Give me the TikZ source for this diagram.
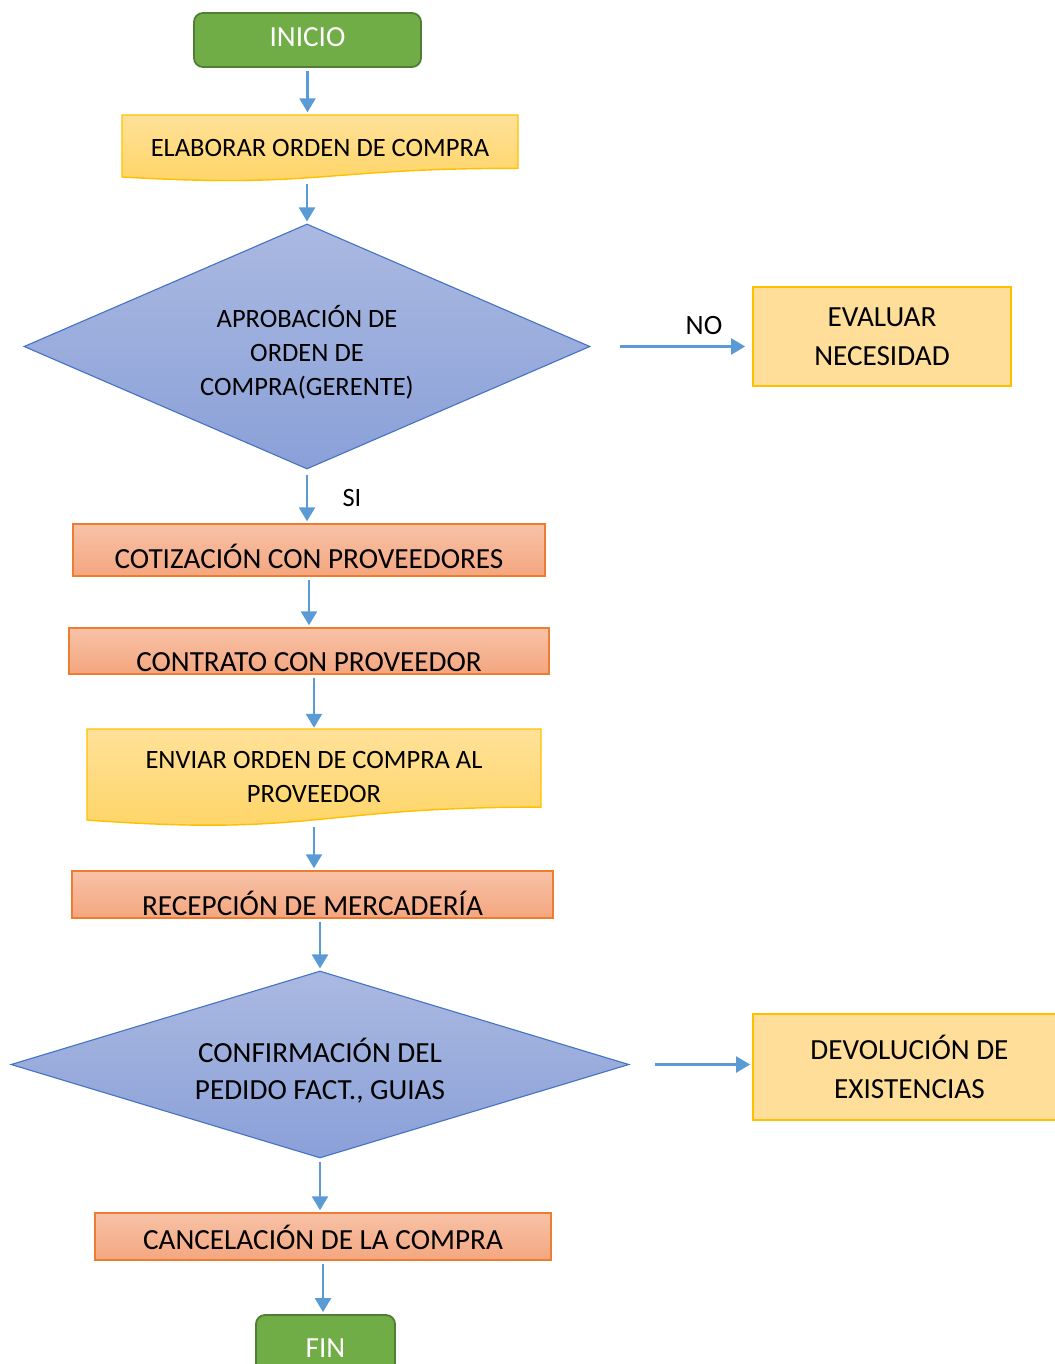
\documentclass[tikz,border=0pt]{standalone}
\usepackage{fontspec}
\setmainfont{Carlito}
\usetikzlibrary{shapes.geometric,arrows.meta}

\definecolor{arrowblue}{HTML}{5B9BD5}
\definecolor{termgreen}{HTML}{70AD47}
\definecolor{termborder}{HTML}{507E32}
\definecolor{doctop}{HTML}{FFE199}
\definecolor{docbot}{HTML}{FFD462}
\definecolor{docborder}{HTML}{FFC000}
\definecolor{notefill}{HTML}{FFDE9A}
\definecolor{proctop}{HTML}{F7C2A7}
\definecolor{procbot}{HTML}{F4A67F}
\definecolor{procborder}{HTML}{ED7D31}
\definecolor{dectop}{HTML}{AAB9E1}
\definecolor{decbot}{HTML}{8AA0D8}
\definecolor{decborder}{HTML}{4472C4}

\newcommand{\bigtext}{\fontsize{29.2}{39}\selectfont}
\newcommand{\smalltext}{\fontsize{26.5}{34}\selectfont}

\tikzset{
  flow/.style={draw=arrowblue, line width=2.4pt, -{Triangle[length=14pt,width=16pt]}, shorten <=3pt, shorten >=2pt},
  termbox/.style={rectangle, rounded corners=9pt, draw=termborder, line width=1.8pt, fill=termgreen, text=white, font=\bigtext, text depth=6pt},
  procbox/.style={rectangle, draw=procborder, line width=1.4pt, top color=proctop, bottom color=procbot, font=\bigtext, inner sep=0pt, text depth=0pt},
  docnode/.style={inner sep=0pt, font=\smalltext, align=center},
  docshape/.style={draw=docborder, line width=1.4pt, top color=doctop, bottom color=docbot},
  decision/.style={diamond, draw=decborder, line width=1.1pt, top color=dectop, bottom color=decbot, inner sep=0pt, align=center},
  notebox/.style={rectangle, draw=docborder, line width=1.8pt, fill=notefill, font=\bigtext, align=center, inner sep=0pt},
  answer/.style={inner sep=0pt, font=\smalltext}
}

\begin{document}
\begin{tikzpicture}[x=1pt,y=-1pt]
            \useasboundingbox (0,0) rectangle (1054,1364);

            % document shapes
            \path[docshape] (122,115) -- (518,115) -- (518,168.3) .. controls (320,168.3) and (320,188.5) .. (122,177) -- cycle;
            \path[docshape] (87,729) -- (541,729) -- (541,807.1) .. controls (314,807.1) and (314,836.9) .. (87,820) -- cycle;

            \node[termbox, minimum width=227pt, minimum height=54pt] (ini) at (307.5,40) {INICIO};
            \node[docnode, minimum width=396pt, minimum height=66pt] (elab) at (320,147.5) {ELABORAR ORDEN DE COMPRA};
            \node[decision, minimum width=566pt, minimum height=245pt, aspect=2.31, font=\smalltext] (aprob) at (307,346.5) {\rule{0pt}{34pt}APROBACIÓN DE\\ORDEN DE\\COMPRA(GERENTE)};
            \node[notebox, minimum width=258pt, minimum height=99pt] (eval) at (882,336.5) {EVALUAR\\NECESIDAD};
            \node[procbox, minimum width=472pt, minimum height=52pt, text height=36.8pt] (cot) at (309,550) {COTIZACIÓN CON PROVEEDORES};
            \node[procbox, minimum width=480pt, minimum height=46pt, text height=40.8pt] (contr) at (309,651) {CONTRATO CON PROVEEDOR};
            \node[docnode, minimum width=454pt, minimum height=94pt] (env) at (314,777) {ENVIAR ORDEN DE COMPRA AL\\PROVEEDOR};
            \node[procbox, minimum width=481pt, minimum height=47pt, text height=41.8pt] (rec) at (312.5,894.5) {RECEPCIÓN DE MERCADERÍA};
            \node[decision, minimum width=618pt, minimum height=187pt, aspect=3.3, font=\fontsize{29.2}{37}\selectfont] (conf) at (320,1064.5) {\rule{0pt}{36pt}CONFIRMACIÓN DEL\\PEDIDO FACT., GUIAS};
            \node[notebox, minimum width=313pt, minimum height=106pt] (dev) at (909.5,1067) {DEVOLUCIÓN DE\\EXISTENCIAS};
            \node[procbox, minimum width=456pt, minimum height=47pt, text height=25.8pt] (canc) at (323,1236.5) {CANCELACIÓN DE LA COMPRA};
            \node[termbox, minimum width=139pt, minimum height=72pt] (fin) at (325.5,1351) {FIN};

            \node[answer, font=\fontsize{28}{34}\selectfont] (no) at (704,326) {NO};
            \node[answer] (si) at (352,498) {SI};

            % connectors
            \draw[flow] (ini.south) -- (ini.south |- elab.north);
            \draw[flow] (aprob.north |- elab.south) -- (aprob.north);
            \draw[flow, shorten <=5pt] (aprob.south) -- (aprob.south |- cot.north);
            \draw[flow, shorten <=29pt, shorten >=7pt] (aprob.east) -- (aprob.east -| eval.west);
            \draw[flow] (cot.south) -- (cot.south |- contr.north);
            \draw[flow] (env.north |- contr.south) -- (env.north);
            \draw[flow] (env.south) -- (env.south |- rec.north);
            \draw[flow] (conf.north |- rec.south) -- (conf.north);
            \draw[flow, shorten <=25pt] (conf.east) -- (conf.east -| dev.west);
            \draw[flow] (conf.south) -- (conf.south |- canc.north);
            \draw[flow] (canc.south) -- (canc.south |- fin.north);
        \end{tikzpicture}
\end{document}
